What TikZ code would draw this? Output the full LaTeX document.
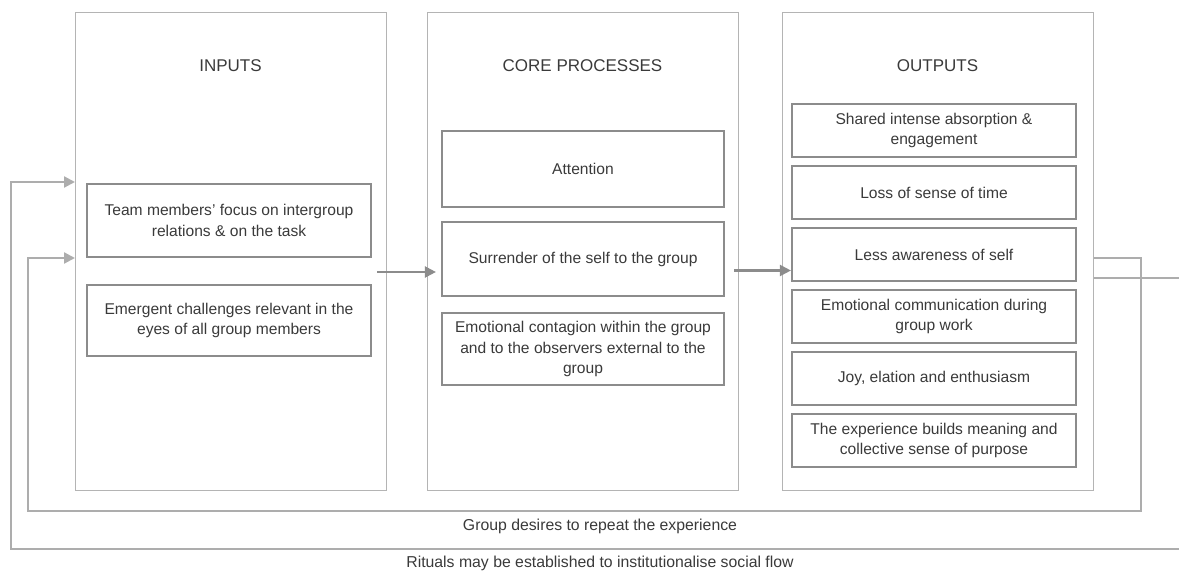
\documentclass[tikz,border=0pt]{standalone}
\usepackage{fontspec}
\setmainfont{Liberation Sans}
\usetikzlibrary{positioning}
\usetikzlibrary{arrows.meta}
\usetikzlibrary{calc}
\definecolor{panelgray}{HTML}{B4B4B4}
\definecolor{boxgray}{HTML}{8C8C8C}
\definecolor{loopgray}{HTML}{ADADAD}
\definecolor{txtgray}{HTML}{3A3A3A}
\tikzset{>={Triangle[length=11pt,width=11pt]}}
\tikzset{panel/.style={draw=panelgray, line width=1.3pt, anchor=north west, minimum width=311pt, minimum height=478pt, inner sep=0pt}}
\tikzset{head/.style={font=\fontsize{17}{20}\selectfont, text=txtgray}}
\tikzset{item/.style={draw=boxgray, line width=2.2pt, align=center, inner sep=0pt, text=txtgray, font=\fontsize{15.6}{20.5}\selectfont}}
\tikzset{fb/.style={draw=loopgray, line width=2.2pt}}
\tikzset{lbl/.style={font=\fontsize{15.8}{18}\selectfont, text=txtgray}}

\begin{document}
\begin{tikzpicture}[x=1pt, y=-1pt]
\useasboundingbox (0,0) rectangle (1179,572);

\node[panel] (inputs) at (75,12) {};
\node[panel] (core) at (427,12) {};
\node[panel] (outputs) at (782,12) {};

\node[head] (tin) at (230.5,66) {INPUTS};
\node[head] (tcore) at (582.5,66) {CORE PROCESSES};
\node[head] (tout) at (937.5,66) {OUTPUTS};

% inputs
\node[item, minimum width=284pt, minimum height=73pt] (focus) at (229,220.5)
 {Team members' focus on intergroup\\relations \& on the task};
\node[item, minimum width=284pt, minimum height=71pt] (emerg) at (229,320.5)
 {Emergent challenges relevant in the\\eyes of all group members};

% core processes
\node[item, minimum width=282pt, minimum height=76pt] (att) at (583,169) {Attention};
\node[item, minimum width=282pt, minimum height=74pt] (surr) at (583,259)
 {Surrender of the self to the group};
\node[item, minimum width=282pt, minimum height=72pt] (cont) at (583,349)
 {Emotional contagion within the group\\and to the observers external to the\\group};

% outputs
\begin{scope}[every node/.style={item, minimum width=284pt, minimum height=53pt}]
\node (absorb) at (934,130.5) {Shared intense absorption \&\\engagement};
\node (time) [below=6.8pt of absorb] {Loss of sense of time};
\node (self) [below=6.8pt of time] {Less awareness of self};
\node (emo) [below=6.8pt of self] {Emotional communication during\\group work};
\node (joy) [below=6.8pt of emo] {Joy, elation and enthusiasm};
\node (mean) [below=6.8pt of joy] {The experience builds meaning and\\collective sense of purpose};
\end{scope}

\draw[draw=boxgray, line width=2.2pt, ->] ($(focus.east |- surr.west)+(5,13)$) -- ($(surr.west)+(-5,13)$);
\draw[draw=boxgray, line width=2.2pt, ->] ($(cont.east |- self.west)+(9,16)$) -- ($(self.west)+(0,16)$);

% feedback loops
\coordinate (r1) at (1141,258);
\coordinate (r2) at (1182,278);
\draw[fb, ->] (outputs.east |- r1) -- (r1) -- (1141,511) -- (28,511) -- (28,258)
 -- (inputs.west |- 0,258);
\draw[fb, ->] (outputs.east |- r2) -- (r2) -- (1182,549) -- (11,549) -- (11,182)
 -- (inputs.west |- 0,182);

\node[lbl] (rep) at (600,526) {Group desires to repeat the experience};
\node[lbl] (rit) at (600,563) {Rituals may be established to institutionalise social flow};
\end{tikzpicture}
\end{document}
